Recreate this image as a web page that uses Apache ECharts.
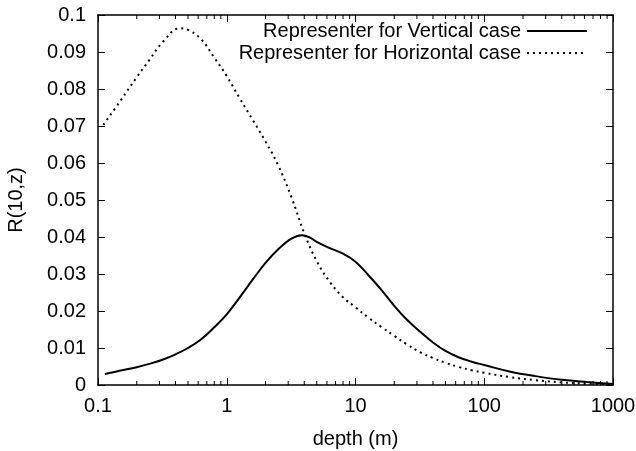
<!DOCTYPE html>
<html>
<head>
<meta charset="utf-8">
<script src="https://cdn.jsdelivr.net/npm/echarts@6/dist/echarts.min.js"></script>
<style>
  html, body { margin: 0; padding: 0; background: #fff; }
  #chart { width: 636px; height: 451px; }
</style>
</head>
<body>
<div id="chart"></div>
<script>
// values
const depthV = [0.113, 0.15, 0.2, 0.25, 0.32, 0.4, 0.5, 0.63, 0.8, 1, 1.25, 1.6, 2, 2.5, 3.2, 3.85, 4.4, 5, 6.3, 8, 10, 12.5, 16, 20, 25, 32, 40, 50, 63, 80, 100, 160, 250, 400, 630, 1000];
const vertical = [0.0030, 0.0039, 0.0048, 0.0057, 0.0069, 0.0083, 0.0100, 0.0123, 0.0156, 0.0191, 0.0235, 0.0286, 0.0330, 0.0366, 0.0396, 0.0405, 0.0399, 0.0387, 0.0370, 0.0355, 0.0333, 0.0298, 0.0256, 0.0214, 0.0177, 0.0143, 0.0115, 0.0092, 0.0075, 0.0063, 0.0054, 0.0036, 0.0024, 0.0014, 0.0008, 0.0003];
const depthH = [0.11, 0.15, 0.2, 0.25, 0.32, 0.43, 0.5, 0.63, 0.8, 1, 1.25, 1.6, 2, 2.5, 3.2, 4, 5, 6.3, 8, 10, 12.5, 16, 20, 25, 32, 40, 50, 63, 80, 100, 160, 250, 400, 630, 1000];
const horizontal = [0.0703, 0.0769, 0.0832, 0.0878, 0.0928, 0.0964, 0.0960, 0.0935, 0.0885, 0.0835, 0.0777, 0.0715, 0.0658, 0.0595, 0.0505, 0.0410, 0.0335, 0.0279, 0.0237, 0.0210, 0.0183, 0.0156, 0.0133, 0.0110, 0.0088, 0.0073, 0.0060, 0.0049, 0.0040, 0.0033, 0.0021, 0.0013, 0.0007, 0.0004, 0.0002];
const seriesNames = ['Representer for Vertical case', 'Representer for Horizontal case'];
// minor ticks of the log axis
const minorTicks = [];
[0.1, 1, 10, 100].forEach(d => {
  for (let k = 2; k <= 9; k++) minorTicks.push(+(d * k).toPrecision(3));
});

const font = 'Liberation Sans, Arial, Helvetica, sans-serif';
const chart = echarts.init(document.getElementById('chart'));

const xBase = {
  type: 'log',
  logBase: 10,
  min: 0.1,
  max: 1000,
  axisLine: { onZero: false, lineStyle: { color: '#000', width: 1.5 } },
  axisTick: { inside: true, length: 7, lineStyle: { color: '#000', width: 1 } },
  splitLine: { show: false }
};
const yBase = {
  type: 'value',
  min: 0,
  max: 0.1,
  interval: 0.01,
  axisLine: { show: true, onZero: false, lineStyle: { color: '#000', width: 1.5 } },
  axisTick: { show: true, inside: true, length: 7, lineStyle: { color: '#000', width: 1 } },
  splitLine: { show: false }
};

chart.setOption({
  animation: false,
  textStyle: { fontFamily: font },
  grid: { left: 98, right: 23, top: 15, bottom: 66, outerBoundsMode: 'none', containLabel: false },
  legend: {
    data: seriesNames,
    orient: 'vertical',
    align: 'right',
    right: 48,
    top: 21,
    padding: 0,
    itemWidth: 60,
    itemHeight: 10,
    itemGap: 2,
    itemStyle: { opacity: 0 },
    textStyle: { fontFamily: font, fontSize: 20, lineHeight: 20, color: '#000', padding: [0, 1, 0, 0] }
  },
  xAxis: [
    Object.assign({}, xBase, {
      position: 'bottom',
      name: 'depth (m)',
      nameLocation: 'middle',
      nameGap: 44,
      nameTextStyle: { fontFamily: font, fontSize: 20, color: '#000' },
      axisLabel: { color: '#000', fontSize: 20, fontFamily: font, margin: 11, formatter: v => String(v) }
    }),
    Object.assign({}, xBase, { position: 'top', axisLabel: { show: false } })
  ],
  yAxis: [
    Object.assign({}, yBase, {
      position: 'left',
      name: 'R(10,z)',
      nameLocation: 'middle',
      nameGap: 72,
      nameTextStyle: { fontFamily: font, fontSize: 20, color: '#000' },
      axisLabel: { color: '#000', fontSize: 20, fontFamily: font, margin: 12 }
    }),
    Object.assign({}, yBase, { position: 'right', axisLabel: { show: false } })
  ],
  series: [
    {
      name: seriesNames[0],
      type: 'line',
      data: depthV.map((d, i) => [d, vertical[i]]),
      smooth: 0.4,
      showSymbol: false,
      symbol: 'none',
      lineStyle: { color: '#000', width: 2, type: 'solid' },
      itemStyle: { color: '#000' }
    },
    {
      name: seriesNames[1],
      type: 'line',
      data: depthH.map((d, i) => [d, horizontal[i]]),
      smooth: 0.4,
      showSymbol: false,
      symbol: 'none',
      lineStyle: { color: '#000', width: 2, type: [2, 4] },
      itemStyle: { color: '#000' }
    },
    {
      type: 'custom',
      silent: true,
      clip: false,
      data: minorTicks.map(v => [v, 0]),
      renderItem: (params, api) => {
        const v = api.value(0);
        const b = api.coord([v, 0]);
        const t = api.coord([v, 0.1]);
        const style = { stroke: '#000', lineWidth: 1 };
        return {
          type: 'group',
          children: [
            { type: 'line', shape: { x1: b[0], y1: b[1], x2: b[0], y2: b[1] - 4 }, style },
            { type: 'line', shape: { x1: t[0], y1: t[1], x2: t[0], y2: t[1] + 4 }, style }
          ]
        };
      }
    }
  ]
});
</script>
</body>
</html>
